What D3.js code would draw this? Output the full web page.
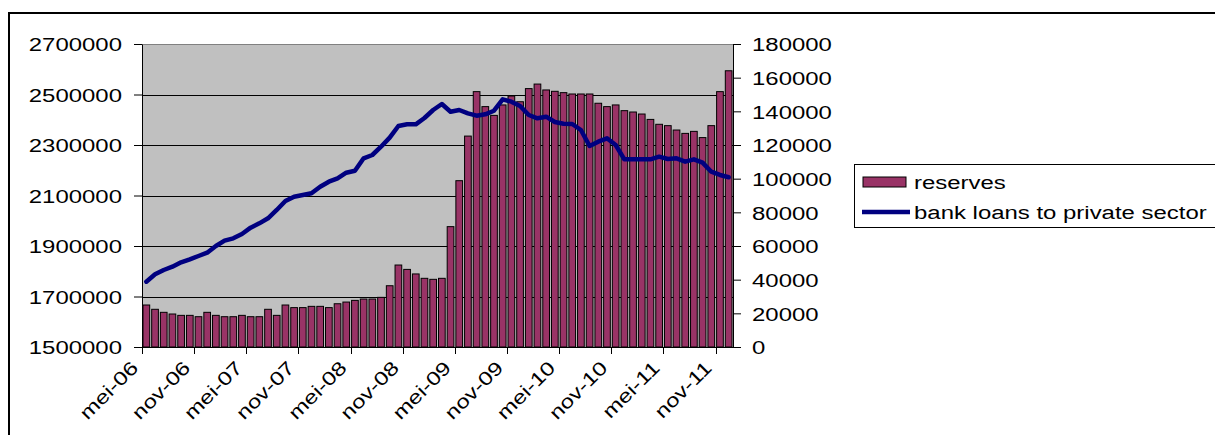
<!DOCTYPE html>
<html>
<head>
<meta charset="utf-8">
<script src="https://cdn.jsdelivr.net/npm/d3@7"></script>
<style>
  html, body { margin: 0; padding: 0; background: #fff; }
  svg { display: block; }
  text { font-family: "Liberation Sans", Arial, sans-serif; font-size: 19px; fill: #000; }
</style>
</head>
<body>
<svg id="chart" width="1215" height="435"></svg>
<script>
// ---------- data ----------
const months = [
  "mei-06","jun-06","jul-06","aug-06","sep-06","okt-06","nov-06","dec-06",
  "jan-07","feb-07","mrt-07","apr-07","mei-07","jun-07","jul-07","aug-07","sep-07","okt-07","nov-07","dec-07",
  "jan-08","feb-08","mrt-08","apr-08","mei-08","jun-08","jul-08","aug-08","sep-08","okt-08","nov-08","dec-08",
  "jan-09","feb-09","mrt-09","apr-09","mei-09","jun-09","jul-09","aug-09","sep-09","okt-09","nov-09","dec-09",
  "jan-10","feb-10","mrt-10","apr-10","mei-10","jun-10","jul-10","aug-10","sep-10","okt-10","nov-10","dec-10",
  "jan-11","feb-11","mrt-11","apr-11","mei-11","jun-11","jul-11","aug-11","sep-11","okt-11","nov-11","dec-11"
];
const tickLabels = ["mei-06","nov-06","mei-07","nov-07","mei-08","nov-08","mei-09","nov-09","mei-10","nov-10","mei-11","nov-11"];
const leftTicks = [1500000,1700000,1900000,2100000,2300000,2500000,2700000];
const rightTicks = [0,20000,40000,60000,80000,100000,120000,140000,160000,180000];

// reserves (bars, right axis)
const reserves = [
  24950,22400,20600,19600,18800,18800,18000,20600,18800,18000,18000,18800,18000,18000,22400,18800,
  24950,23400,23400,24150,24150,23400,25700,26700,27700,28500,28500,29500,36400,48700,46100,43400,
  40800,40200,40800,71500,98800,125300,151700,142800,137600,143800,149100,145700,153500,156200,
  152700,151900,151100,150300,150300,150300,144800,142800,143800,140400,139600,138400,135200,132300,
  131500,128900,126900,128100,124400,131500,151700,164100
];
// bank loans to private sector (line, left axis)
const loans = [
  1758700,1787800,1805000,1818100,1835300,1847300,1860400,1873500,1900000,1921000,1930500,1947500,
  1972500,1989800,2009700,2042600,2078200,2095300,2102000,2108700,2134900,2154700,2168100,2190300,
  2198200,2247300,2260400,2293300,2329000,2375300,2381900,2381900,2406900,2438600,2462400,2431900,
  2438600,2425500,2416200,2421500,2435800,2481000,2471500,2454500,2418800,2405700,2412100,2391100,
  2384400,2383200,2359400,2296000,2313200,2326500,2300000,2243300,2243300,2243300,2243300,2253700,
  2244600,2247300,2234000,2243300,2230000,2194300,2181300,2172100
];
const seriesNames = ["reserves", "bank loans to private sector"];

// ---------- layout ----------
const svg = d3.select("#chart");
const plot = { left: 142, right: 733, top: 44, bottom: 347 };
const STRETCH = 1.26;
const FONT = "'Liberation Sans', Arial, sans-serif";
const barColor = "#993366", lineColor = "#000080";

svg.append("rect").attr("width", 1215).attr("height", 435).attr("fill", "#fff");
// chart area border
svg.append("rect").attr("x", 9).attr("y", 13).attr("width", 1400).attr("height", 600)
  .attr("fill", "none").attr("stroke", "#000").attr("stroke-width", 2);

const x = d3.scaleBand().domain(months).range([plot.left, plot.right]).paddingInner(0.23).paddingOuter(0.115);
const xc = d => x(d) + x.bandwidth() / 2;
const step = x.step();
const yL = d3.scaleLinear().domain([1500000, 2700000]).range([plot.bottom, plot.top]);
const yR = d3.scaleLinear().domain([0, 180000]).range([plot.bottom, plot.top]);

// plot background
svg.append("rect").attr("x", plot.left).attr("y", plot.top)
  .attr("width", plot.right - plot.left).attr("height", plot.bottom - plot.top)
  .attr("fill", "#C0C0C0");
svg.append("line").attr("x1", plot.left).attr("x2", plot.right)
  .attr("y1", plot.top + 0.5).attr("y2", plot.top + 0.5).attr("stroke", "#808080");

// gridlines
svg.append("g").selectAll("line").data(leftTicks.slice(1, -1)).join("line")
  .attr("x1", plot.left).attr("x2", plot.right)
  .attr("y1", d => Math.round(yL(d)) + 0.5).attr("y2", d => Math.round(yL(d)) + 0.5)
  .attr("stroke", "#000").attr("stroke-width", 1);

// bars
svg.append("g").selectAll("rect").data(months).join("rect")
  .attr("x", d => x(d)).attr("width", x.bandwidth())
  .attr("y", (d, i) => yR(reserves[i])).attr("height", (d, i) => yR(0) - yR(reserves[i]))
  .attr("fill", barColor).attr("stroke", "#000").attr("stroke-width", 1);

// line
const lineGen = d3.line().x((d, i) => xc(months[i])).y(d => yL(d));
svg.append("path").datum(loans).attr("d", lineGen)
  .attr("fill", "none").attr("stroke", lineColor).attr("stroke-width", 4.5)
  .attr("stroke-linejoin", "round").attr("stroke-linecap", "round");

// left axis
const gL = svg.append("g").attr("transform", `translate(${plot.left},0)`)
  .call(d3.axisLeft(yL).tickValues(leftTicks).tickSize(8).tickSizeOuter(0).tickFormat(d3.format("d")));
gL.select(".domain").attr("stroke", "#000");
gL.selectAll(".tick line").attr("stroke", "#000");
gL.selectAll(".tick text").attr("x", null).attr("dy", null)
  .attr("transform", `translate(-20,6.8) scale(${STRETCH},1)`)
  .style("font-size", "19px").style("font-family", FONT).attr("fill", "#000");

// right axis
const gR = svg.append("g").attr("transform", `translate(${plot.right},0)`)
  .call(d3.axisRight(yR).tickValues(rightTicks).tickSize(8).tickSizeOuter(0).tickFormat(d3.format("d")));
gR.select(".domain").attr("stroke", "#000");
gR.selectAll(".tick line").attr("stroke", "#000");
gR.selectAll(".tick text").attr("x", null).attr("dy", null)
  .attr("transform", `translate(19,6.8) scale(${STRETCH},1)`)
  .style("font-size", "19px").style("font-family", FONT).attr("fill", "#000");

// bottom axis
const gB = svg.append("g").attr("transform", `translate(0,${plot.bottom})`)
  .call(d3.axisBottom(x).tickValues(tickLabels).tickSize(0).tickSizeOuter(0));
gB.select(".domain").attr("stroke", "#000");
gB.selectAll(".tick text").attr("y", null).attr("dy", null)
  .attr("text-anchor", "end")
  .attr("transform", `translate(-7,22) rotate(-45) scale(${STRETCH},1)`)
  .style("font-size", "19px").style("font-family", FONT).attr("fill", "#000");
// category tick marks at boundaries
svg.append("g").selectAll("line").data(tickLabels).join("line")
  .attr("x1", d => Math.round(x(d) - step * 0.115) + 0.5)
  .attr("x2", d => Math.round(x(d) - step * 0.115) + 0.5)
  .attr("y1", plot.bottom).attr("y2", plot.bottom + 7)
  .attr("stroke", "#000");

// legend
const lg = svg.append("g");
lg.append("rect").attr("x", 854.5).attr("y", 164.5).attr("width", 400).attr("height", 63)
  .attr("fill", "#fff").attr("stroke", "#000").attr("stroke-width", 1);
lg.append("rect").attr("x", 863).attr("y", 177).attr("width", 43).attr("height", 10)
  .attr("fill", barColor).attr("stroke", "#000");
lg.append("line").attr("x1", 862).attr("x2", 910).attr("y1", 212).attr("y2", 212)
  .attr("stroke", lineColor).attr("stroke-width", 4.5);
lg.selectAll("text").data(seriesNames).join("text")
  .attr("transform", (d, i) => `translate(914,${i === 0 ? 188.5 : 218.5}) scale(${STRETCH},1)`)
  .text(d => d);
</script>
</body>
</html>
